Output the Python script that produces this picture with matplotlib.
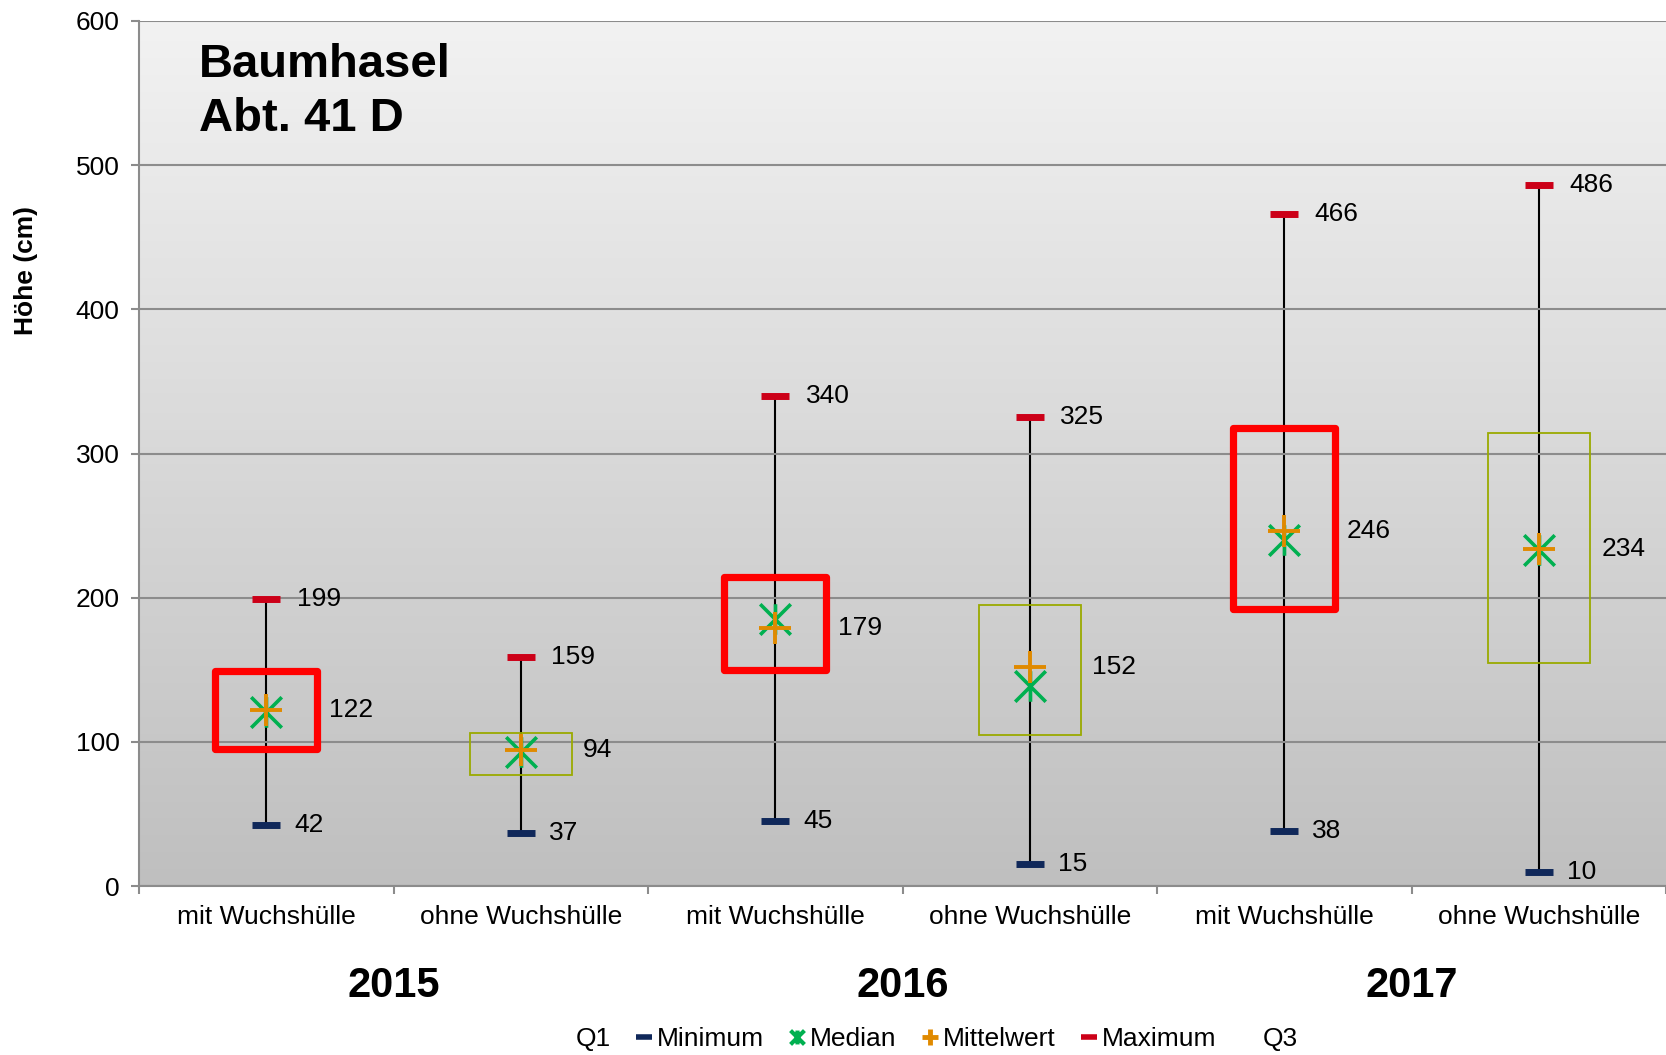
import matplotlib
matplotlib.use("Agg")
import matplotlib.pyplot as plt
import numpy as np
from matplotlib.lines import Line2D
from matplotlib.patches import Rectangle
from matplotlib.path import Path

plt.rcParams['font.family'] = ['Liberation Sans', 'DejaVu Sans']

categories = ["mit Wuchshülle", "ohne Wuchshülle"] * 3
years = ["2015", "2016", "2017"]
minimum = [42, 37, 45, 15, 38, 10]
q1 = [95, 77, 150, 105, 192, 155]
median = [121, 93, 185, 139, 240, 233]
mean = [122, 94, 179, 152, 246, 234]
q3 = [149, 106, 214, 195, 318, 314]
maximum = [199, 159, 340, 325, 466, 486]
highlight = [True, False, True, False, True, False]

grid_col = "#8c8c8c"
navy = "#10285a"
green = "#00b050"
orange = "#e08a00"
red_mark = "#cc0018"
olive = "#9aaa00"

# excel style star: x with a vertical bar
star = Path([(-1, -1), (1, 1), (-1, 1), (1, -1), (0, -1), (0, 1)],
            [Path.MOVETO, Path.LINETO, Path.MOVETO, Path.LINETO, Path.MOVETO, Path.LINETO])

fig = plt.figure(figsize=(16.66, 10.55), dpi=100)
ax = fig.add_axes([139 / 1666, 1 - 886 / 1055, 1 - 139 / 1666, 865 / 1055])

# grey gradient background
grad = np.linspace(0, 1, 256).reshape(-1, 1)
ax.imshow(grad, extent=[0, 1, 0, 1], transform=ax.transAxes, aspect='auto',
          cmap=matplotlib.colors.LinearSegmentedColormap.from_list("g", ["#bfbfbf", "#f2f2f2"]),
          origin='lower', zorder=0)

x = np.arange(len(categories))
bw = 0.40

for i in x:
    ax.plot([i, i], [minimum[i], maximum[i]], color="black", lw=1.5, zorder=2)
    if highlight[i]:
        ax.add_patch(Rectangle((i - bw / 2, q1[i] - 2), bw, q3[i] - q1[i], fill=False,
                               edgecolor=olive, lw=1.3, zorder=3))
        ax.add_patch(Rectangle((i - bw / 2, q1[i]), bw, q3[i] - q1[i], fill=False,
                               edgecolor="#ff0000", lw=5.2, joinstyle='round', zorder=3))
    else:
        ax.add_patch(Rectangle((i - bw / 2, q1[i]), bw, q3[i] - q1[i], fill=False,
                               edgecolor=olive, lw=1.3, zorder=3))

ax.plot(x, median, linestyle='none', marker=star, ms=22, mew=2.6, color=green, zorder=4)
ax.plot(x, mean, linestyle='none', marker='+', ms=23, mew=2.8, color=orange, zorder=5)
ax.plot(x, minimum, linestyle='none', marker='_', ms=20, mew=5, color=navy, zorder=5)
ax.plot(x, maximum, linestyle='none', marker='_', ms=20, mew=5, color=red_mark, zorder=5)

for i in x:
    ax.annotate(str(maximum[i]), (i, maximum[i]), xytext=(22, 0), textcoords='offset points',
                va='center', ha='left', fontsize=19)
    ax.annotate(str(minimum[i]), (i, minimum[i]), xytext=(20, 0), textcoords='offset points',
                va='center', ha='left', fontsize=19)
    ax.annotate(str(mean[i]), (i, mean[i]), xytext=(45, 0), textcoords='offset points',
                va='center', ha='left', fontsize=19)

ax.set_xlim(-0.5, 5.5)
ax.set_ylim(0, 600)
ax.set_yticks(range(0, 601, 100))
ax.yaxis.grid(True, color=grid_col, lw=1.5)
ax.set_axisbelow(False)
for line in ax.get_ygridlines():
    line.set_zorder(1)

ax.set_xticks(x)
ax.set_xticklabels(categories, fontsize=19)
ax.set_xticks(np.arange(-0.5, 6, 1), minor=True)
ax.tick_params(axis='x', which='major', length=0, pad=14)
ax.tick_params(axis='x', which='minor', length=6, width=1.5, color=grid_col)
ax.tick_params(axis='y', length=6, width=1.5, color=grid_col, labelsize=19, pad=8)
for s in ['top', 'right']:
    ax.spines[s].set_visible(False)
for s in ['left', 'bottom']:
    ax.spines[s].set_color(grid_col)
    ax.spines[s].set_linewidth(1.5)

ax.set_ylabel("Höhe (cm)", fontsize=19, fontweight='bold')
ax.yaxis.set_label_coords(-0.066, 0.711)

trans = matplotlib.transforms.blended_transform_factory(ax.transData, fig.transFigure)
for k, yr in enumerate(years):
    ax.text(2 * k + 0.5, 0.065, yr, transform=trans, ha='center', va='center',
            fontsize=30, fontweight='bold')

ax.text(0.039, 0.975, "Baumhasel\nAbt. 41 D", transform=ax.transAxes, ha='left', va='top',
        fontsize=34, fontweight='bold', linespacing=1.3)

handles = [
    Line2D([], [], linestyle='none'),
    Line2D([], [], linestyle='none', marker='_', ms=11, mew=4, color=navy),
    Line2D([], [], linestyle='none', marker=star, ms=10, mew=3, color=green),
    Line2D([], [], linestyle='none', marker='+', ms=11, mew=3.5, color=orange),
    Line2D([], [], linestyle='none', marker='_', ms=11, mew=4, color=red_mark),
    Line2D([], [], linestyle='none'),
]
labels = ["Q1", "Minimum", "Median", "Mittelwert", "Maximum", "Q3"]
fig.legend(handles, labels, loc='center', bbox_to_anchor=(0.555, 0.015), ncol=6,
           frameon=False, handlelength=0.8, handletextpad=0.1, columnspacing=0.85,
           borderpad=0.2, prop={'size': 19})

fig.savefig("out.png", dpi=100)
